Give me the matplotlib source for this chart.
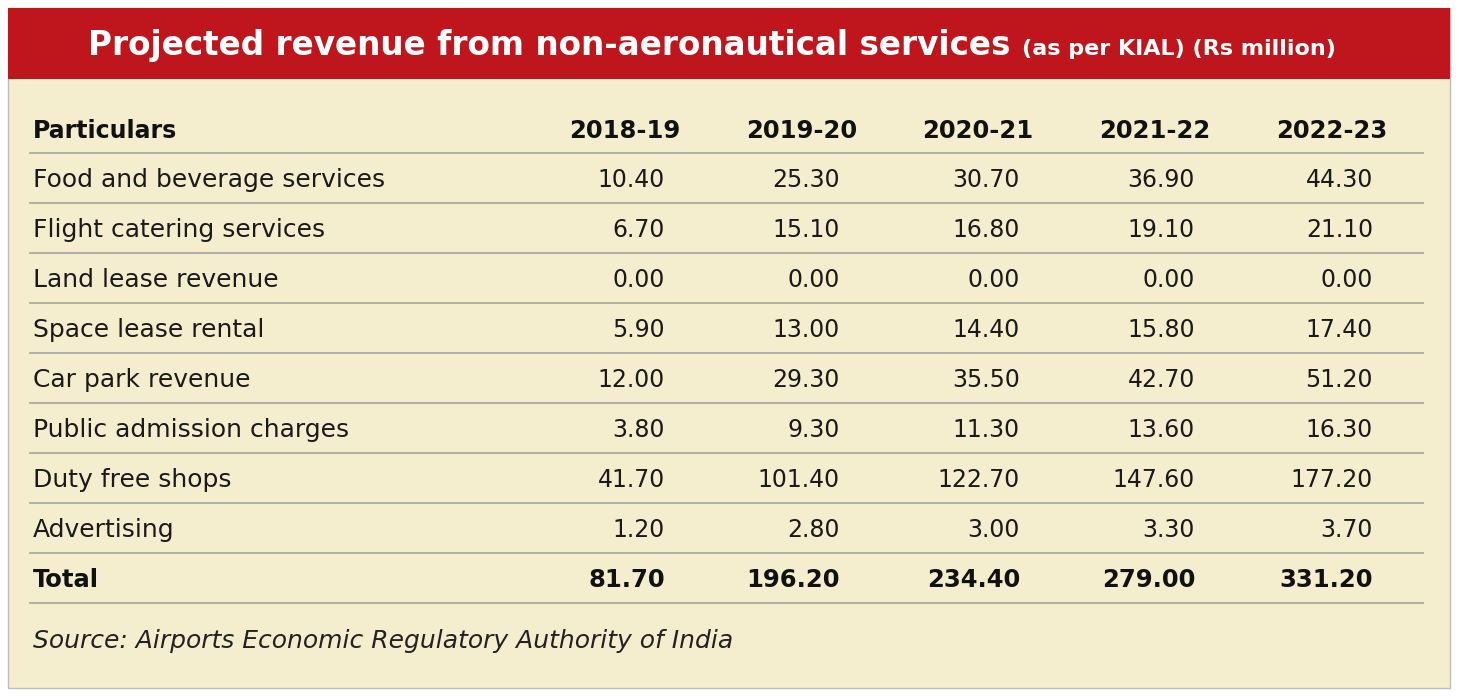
import matplotlib
matplotlib.use("Agg")
import matplotlib.pyplot as plt
from matplotlib.patches import Rectangle

title = "Projected revenue from non-aeronautical services"
subtitle = "(as per KIAL) (Rs million)"
columns = ["2018-19", "2019-20", "2020-21", "2021-22", "2022-23"]
particulars = ["Food and beverage services", "Flight catering services", "Land lease revenue",
               "Space lease rental", "Car park revenue", "Public admission charges",
               "Duty free shops", "Advertising"]
values = [
    [10.40, 25.30, 30.70, 36.90, 44.30],
    [6.70, 15.10, 16.80, 19.10, 21.10],
    [0.00, 0.00, 0.00, 0.00, 0.00],
    [5.90, 13.00, 14.40, 15.80, 17.40],
    [12.00, 29.30, 35.50, 42.70, 51.20],
    [3.80, 9.30, 11.30, 13.60, 16.30],
    [41.70, 101.40, 122.70, 147.60, 177.20],
    [1.20, 2.80, 3.00, 3.30, 3.70],
]
totals = [81.70, 196.20, 234.40, 279.00, 331.20]
source = "Source: Airports Economic Regulatory Authority of India"

W, H = 1459, 700
fig = plt.figure(figsize=(W/100, H/100), dpi=100)
fig.patch.set_facecolor("white")
ax = fig.add_axes([0, 0, 1, 1])
ax.set_xlim(0, W); ax.set_ylim(H, 0); ax.axis("off")

ax.add_patch(Rectangle((8, 8), 1442, 680, facecolor="#f4eecf", edgecolor="#bdbdbd", lw=1))
ax.add_patch(Rectangle((8, 8), 1442, 71, facecolor="#bf161d", edgecolor="none"))

font = "DejaVu Sans"
t = ax.text(88, 46, title, color="white", fontsize=23.5, fontweight="bold", family=font, va="center")
fig.canvas.draw()
bb = t.get_window_extent()
x2 = bb.x1 + 12
ax.text(x2, 49, subtitle, color="white", fontsize=16, fontweight="bold", family=font, va="center")

val_right = [665, 840, 1020, 1195, 1373]
hdr_right = [680, 857, 1033, 1210, 1387]
line_col = "#a9a9a4"

ax.text(33, 131, "Particulars", fontsize=17, fontweight="bold", family=font, va="center", color="#111")
for c, xr in zip(columns, hdr_right):
    ax.text(xr, 131, c, fontsize=17.5, fontweight="bold", family=font, va="center", ha="right", color="#111")

y0 = 153
for i in range(10):
    ax.plot([30, 1423], [y0 + 50*i]*2, color=line_col, lw=1.3)

for i, (name, row) in enumerate(zip(particulars, values)):
    y = 180 + 50*i
    ax.text(33, y, name, fontsize=18, family=font, va="center", color="#1a1a1a")
    for v, xr in zip(row, val_right):
        ax.text(xr, y, f"{v:.2f}", fontsize=17, family=font, va="center", ha="right", color="#1a1a1a")

y = 180 + 50*8
ax.text(33, y, "Total", fontsize=17.5, fontweight="bold", family=font, va="center", color="#111")
for v, xr in zip(totals, val_right):
    ax.text(xr, y, f"{v:.2f}", fontsize=17.5, fontweight="bold", family=font, va="center", ha="right", color="#111")

ax.text(33, 641, source, fontsize=18, style="italic", family=font, va="center", color="#222")

fig.savefig("out.png", dpi=100)
